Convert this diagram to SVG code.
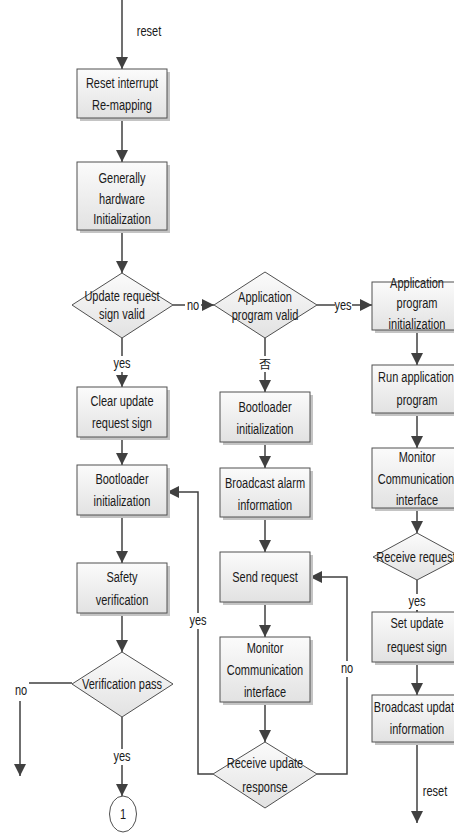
<svg xmlns="http://www.w3.org/2000/svg" width="454" height="839" viewBox="0 0 454 839">
<defs>
<linearGradient id="gbox" x1="0" y1="0" x2="0" y2="1">
<stop offset="0" stop-color="#fbfbfb"/>
<stop offset="1" stop-color="#e2e2e2"/>
</linearGradient>
<marker id="ah" markerUnits="userSpaceOnUse" markerWidth="12" markerHeight="16" viewBox="0 0 12 16" refX="12" refY="6" orient="auto">
<path d="M0,0 L12,6 L0,12 Z" fill="#404040"/>
</marker>
</defs>
<style>
.box{fill:url(#gbox);stroke:#505050;stroke-width:1}
.sh{fill:#c4c4c4}
.dia{fill:url(#gbox);stroke:#505050;stroke-width:1}
.t{font-family:"Liberation Sans",Arial,sans-serif;font-size:14.5px;fill:#1a1a1a;text-anchor:middle}
.c{fill:none;stroke:#404040;stroke-width:1.5}
.a{marker-end:url(#ah)}
.lb{fill:#ffffff}
</style>
<rect width="454" height="839" fill="#ffffff"/>

<g id="connectors">
<path class="c a" d="M122,0 V69"/>
<path class="c a" d="M122,118 V162"/>
<path class="c a" d="M122,230 V273"/>
<path class="c a" d="M173,305 H214"/>
<path class="c a" d="M317,305 H372"/>
<path class="c a" d="M122,338 V387"/>
<path class="c a" d="M122,437 V465"/>
<path class="c a" d="M122,515 V563"/>
<path class="c a" d="M122,613 V652"/>
<path class="c a" d="M72,683 H20 V776"/>
<path class="c a" d="M122,717 V796"/>
<path class="c a" d="M265,338 V392"/>
<path class="c a" d="M265,442 V468"/>
<path class="c a" d="M265,517 V552"/>
<path class="c a" d="M265,602 V637"/>
<path class="c a" d="M265,702 V742"/>
<path class="c a" d="M213,774 H198 V492 H167"/>
<path class="c a" d="M317,774 H347 V577 H310"/>
<path class="c a" d="M417,330 V365"/>
<path class="c a" d="M417,413 V448"/>
<path class="c a" d="M417,508 V533"/>
<path class="c a" d="M417,580 V612"/>
<path class="c a" d="M417,662 V695"/>
<path class="c a" d="M417,742 V823"/>
<rect class="lb" x="185" y="298" width="16" height="14"/>
<text class="t" transform="matrix(0.76,0,0,1,193,310)">no</text>
<rect class="lb" x="335" y="298" width="17" height="14"/>
<text class="t" transform="matrix(0.76,0,0,1,343,310)">yes</text>
<rect class="lb" x="113" y="356" width="18" height="16"/>
<text class="t" transform="matrix(0.76,0,0,1,122,368)">yes</text>
<rect class="lb" x="258" y="356" width="14" height="16"/>
<text class="t" x="265" y="369" style="font-family:'Noto Sans CJK SC',sans-serif;font-size:12px">否</text>
<rect class="lb" x="189" y="613" width="18" height="16"/>
<text class="t" transform="matrix(0.76,0,0,1,198,625)">yes</text>
<rect class="lb" x="339" y="661" width="16" height="16"/>
<text class="t" transform="matrix(0.76,0,0,1,347,673)">no</text>
<rect class="lb" x="12" y="682" width="17" height="19"/>
<text class="t" transform="matrix(0.76,0,0,1,21,695)">no</text>
<rect class="lb" x="113" y="749" width="18" height="16"/>
<text class="t" transform="matrix(0.76,0,0,1,122,761)">yes</text>
<rect class="lb" x="408" y="594" width="18" height="16"/>
<text class="t" transform="matrix(0.76,0,0,1,417,606)">yes</text>
<text class="t" transform="matrix(0.76,0,0,1,149,36)">reset</text>
<text class="t" transform="matrix(0.76,0,0,1,435,796)">reset</text>
</g>

<g id="n-reset-remap">
<rect class="sh" x="80" y="72" width="90" height="49"/>
<rect class="box" x="77" y="69" width="90" height="49"/>
<text class="t" transform="matrix(0.76,0,0,1,122,88)">Reset interrupt</text>
<text class="t" transform="matrix(0.76,0,0,1,122,110)">Re-mapping</text>
</g>
<g id="n-hw-init">
<rect class="sh" x="80" y="165" width="90" height="68"/>
<rect class="box" x="77" y="162" width="90" height="68"/>
<text class="t" transform="matrix(0.76,0,0,1,122,183)">Generally</text>
<text class="t" transform="matrix(0.76,0,0,1,122,204)">hardware</text>
<text class="t" transform="matrix(0.76,0,0,1,122,224)">Initialization</text>
</g>
<g id="n-update-sign-valid">
<polygon class="dia" points="122,273 173,305 122,338 72,305"/>
<text class="t" transform="matrix(0.76,0,0,1,122,301)">Update request</text>
<text class="t" transform="matrix(0.76,0,0,1,122,319)">sign valid</text>
</g>
<g id="n-app-valid">
<polygon class="dia" points="265,272 317,305 265,338 214,305"/>
<text class="t" transform="matrix(0.76,0,0,1,265,302)">Application</text>
<text class="t" transform="matrix(0.76,0,0,1,265,320)">program valid</text>
</g>
<g id="n-app-init">
<rect class="sh" x="375" y="285" width="90" height="48"/>
<rect class="box" x="372" y="282" width="90" height="48"/>
<text class="t" transform="matrix(0.76,0,0,1,417,288)">Application</text>
<text class="t" transform="matrix(0.76,0,0,1,417,308)">program</text>
<text class="t" transform="matrix(0.76,0,0,1,417,329)">initialization</text>
</g>
<g id="n-run-app">
<rect class="sh" x="375" y="368" width="90" height="48"/>
<rect class="box" x="372" y="365" width="90" height="48"/>
<text class="t" transform="matrix(0.76,0,0,1,416,382)">Run application</text>
<text class="t" transform="matrix(0.76,0,0,1,417,405)">program</text>
</g>
<g id="n-monitor-r">
<rect class="sh" x="375" y="451" width="90" height="60"/>
<rect class="box" x="372" y="448" width="90" height="60"/>
<text class="t" transform="matrix(0.76,0,0,1,417,462)">Monitor</text>
<text class="t" transform="matrix(0.76,0,0,1,416,484)">Communication</text>
<text class="t" transform="matrix(0.76,0,0,1,417,505)">interface</text>
</g>
<g id="n-receive-request">
<polygon class="dia" points="417,533 461,557 417,580 373,557"/>
<text class="t" transform="matrix(0.76,0,0,1,416,562)">Receive request</text>
</g>
<g id="n-set-sign">
<rect class="sh" x="375" y="615" width="90" height="50"/>
<rect class="box" x="372" y="612" width="90" height="50"/>
<text class="t" transform="matrix(0.76,0,0,1,417,628)">Set update</text>
<text class="t" transform="matrix(0.76,0,0,1,417,652)">request sign</text>
</g>
<g id="n-broadcast-update">
<rect class="sh" x="375" y="698" width="90" height="47"/>
<rect class="box" x="372" y="695" width="90" height="47"/>
<text class="t" transform="matrix(0.76,0,0,1,417,712)">Broadcast update</text>
<text class="t" transform="matrix(0.76,0,0,1,417,734)">information</text>
</g>
<g id="n-clear-sign">
<rect class="sh" x="80" y="390" width="90" height="50"/>
<rect class="box" x="77" y="387" width="90" height="50"/>
<text class="t" transform="matrix(0.76,0,0,1,122,406)">Clear update</text>
<text class="t" transform="matrix(0.76,0,0,1,122,428)">request sign</text>
</g>
<g id="n-boot-init-l">
<rect class="sh" x="80" y="468" width="90" height="50"/>
<rect class="box" x="77" y="465" width="90" height="50"/>
<text class="t" transform="matrix(0.76,0,0,1,122,484)">Bootloader</text>
<text class="t" transform="matrix(0.76,0,0,1,122,506)">initialization</text>
</g>
<g id="n-safety">
<rect class="sh" x="80" y="566" width="90" height="50"/>
<rect class="box" x="77" y="563" width="90" height="50"/>
<text class="t" transform="matrix(0.76,0,0,1,122,582)">Safety</text>
<text class="t" transform="matrix(0.76,0,0,1,122,605)">verification</text>
</g>
<g id="n-verification-pass">
<polygon class="dia" points="122,652 173,684 122,717 72,684"/>
<text class="t" transform="matrix(0.76,0,0,1,122,689)">Verification pass</text>
</g>
<g id="n-connector-1">
<ellipse cx="123" cy="814" rx="13.5" ry="18" fill="#ffffff" stroke="#505050" stroke-width="1"/>
<text class="t" transform="matrix(0.76,0,0,1,123,819)">1</text>
</g>
<g id="n-boot-init-m">
<rect class="sh" x="223" y="395" width="90" height="50"/>
<rect class="box" x="220" y="392" width="90" height="50"/>
<text class="t" transform="matrix(0.76,0,0,1,265,412)">Bootloader</text>
<text class="t" transform="matrix(0.76,0,0,1,265,434)">initialization</text>
</g>
<g id="n-broadcast-alarm">
<rect class="sh" x="223" y="471" width="90" height="49"/>
<rect class="box" x="220" y="468" width="90" height="49"/>
<text class="t" transform="matrix(0.76,0,0,1,265,488)">Broadcast alarm</text>
<text class="t" transform="matrix(0.76,0,0,1,265,510)">information</text>
</g>
<g id="n-send-request">
<rect class="sh" x="223" y="555" width="90" height="50"/>
<rect class="box" x="220" y="552" width="90" height="50"/>
<text class="t" transform="matrix(0.76,0,0,1,265,582)">Send request</text>
</g>
<g id="n-monitor-m">
<rect class="sh" x="223" y="640" width="90" height="65"/>
<rect class="box" x="220" y="637" width="90" height="65"/>
<text class="t" transform="matrix(0.76,0,0,1,265,653)">Monitor</text>
<text class="t" transform="matrix(0.76,0,0,1,265,675)">Communication</text>
<text class="t" transform="matrix(0.76,0,0,1,265,697)">interface</text>
</g>
<g id="n-receive-update">
<polygon class="dia" points="265,742 317,774 265,808 213,774"/>
<text class="t" transform="matrix(0.76,0,0,1,265,768)">Receive update</text>
<text class="t" transform="matrix(0.76,0,0,1,265,792)">response</text>
</g>
</svg>
